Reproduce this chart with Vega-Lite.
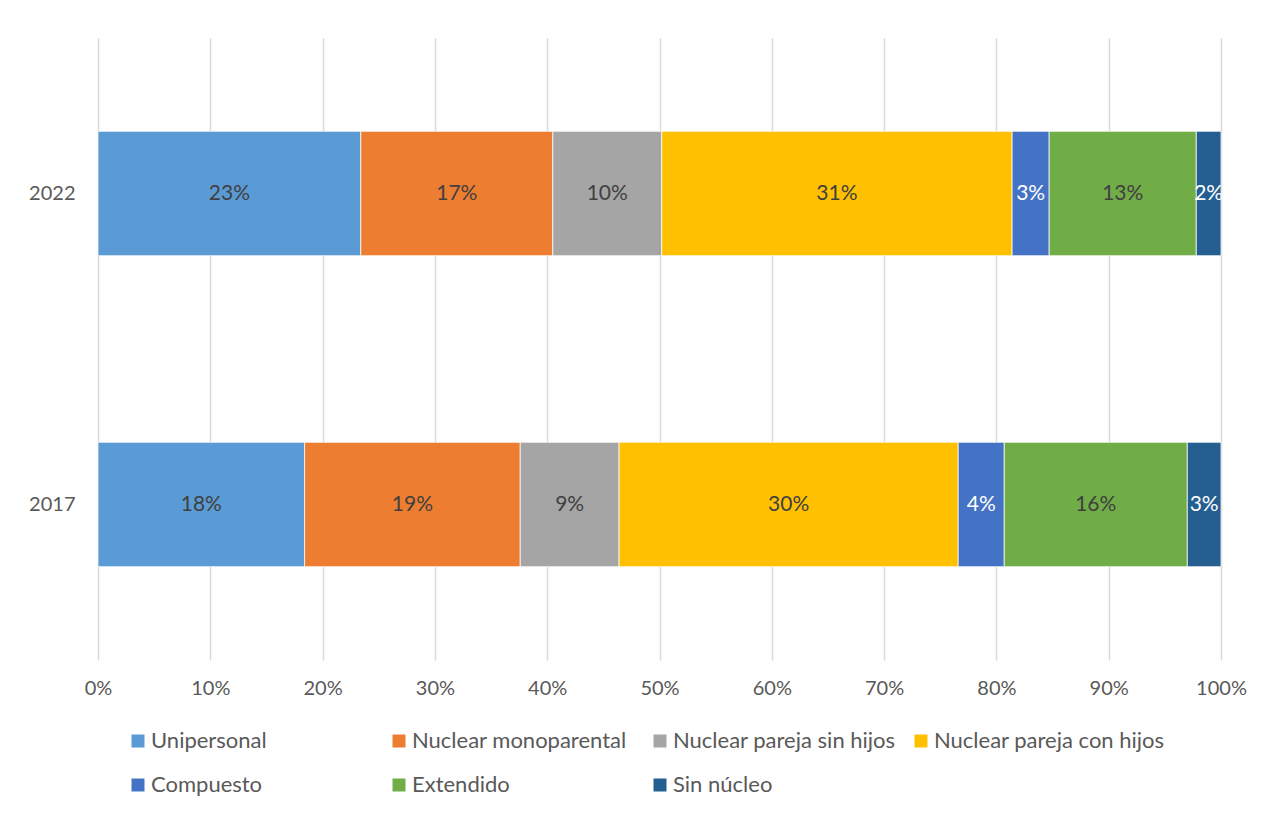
{
  "$schema": "https://vega.github.io/schema/vega-lite/v6.json",
  "width": 1123,
  "height": 622,
  "autosize": {"type": "none"},
  "padding": {"left": 98, "top": 38, "right": 45, "bottom": 153},
  "background": "white",
  "config": {
    "font": "Lato",
    "view": {"stroke": null},
    "axis": {"labelFont": "Lato", "labelFontSize": 20, "labelColor": "#595959"},
    "legend": {"labelFont": "Lato", "labelFontSize": 22, "labelColor": "#595959"}
  },
  "data": {
    "values": [
      {"year": "2022", "category": "Unipersonal", "order": 1, "value": 0.234},
      {"year": "2022", "category": "Nuclear monoparental", "order": 2, "value": 0.171},
      {"year": "2022", "category": "Nuclear pareja sin hijos", "order": 3, "value": 0.097},
      {"year": "2022", "category": "Nuclear pareja con hijos", "order": 4, "value": 0.312},
      {"year": "2022", "category": "Compuesto", "order": 5, "value": 0.033},
      {"year": "2022", "category": "Extendido", "order": 6, "value": 0.131},
      {"year": "2022", "category": "Sin núcleo", "order": 7, "value": 0.022},
      {"year": "2017", "category": "Unipersonal", "order": 1, "value": 0.184},
      {"year": "2017", "category": "Nuclear monoparental", "order": 2, "value": 0.192},
      {"year": "2017", "category": "Nuclear pareja sin hijos", "order": 3, "value": 0.088},
      {"year": "2017", "category": "Nuclear pareja con hijos", "order": 4, "value": 0.302},
      {"year": "2017", "category": "Compuesto", "order": 5, "value": 0.041},
      {"year": "2017", "category": "Extendido", "order": 6, "value": 0.163},
      {"year": "2017", "category": "Sin núcleo", "order": 7, "value": 0.030}
    ]
  },
  "encoding": {
    "y": {
      "field": "year",
      "type": "nominal",
      "sort": ["2022", "2017"],
      "scale": {"paddingInner": 0.6, "paddingOuter": 0.3},
      "axis": {"title": null, "domain": false, "ticks": false, "labelPadding": 23, "grid": false}
    },
    "x": {
      "field": "value",
      "type": "quantitative",
      "stack": "normalize",
      "scale": {"domain": [0, 1], "nice": false},
      "axis": {
        "title": null,
        "format": ".0%",
        "values": [0, 0.1, 0.2, 0.3, 0.4, 0.5, 0.6, 0.7, 0.8, 0.9, 1],
        "domain": false,
        "ticks": false,
        "grid": true,
        "gridColor": "#d9d9d9",
        "gridWidth": 1.5,
        "labelFlush": false,
        "labelPadding": 18
      }
    },
    "order": {"field": "order", "type": "quantitative"}
  },
  "layer": [
    {
      "mark": {"type": "bar", "stroke": "white", "strokeWidth": 0.75},
      "encoding": {
        "color": {
          "field": "category",
          "type": "nominal",
          "scale": {
            "domain": ["Unipersonal", "Nuclear monoparental", "Nuclear pareja sin hijos", "Nuclear pareja con hijos", "Compuesto", "Extendido", "Sin núcleo"],
            "range": ["#5B9BD5", "#ED7D31", "#A5A5A5", "#FFC000", "#4472C4", "#70AD47", "#255E91"]
          },
          "legend": {
            "title": null,
            "orient": "none",
            "legendX": 29,
            "legendY": 692,
            "direction": "horizontal",
            "columns": 4,
            "gridAlign": "all",
            "columnPadding": 6,
            "rowPadding": 22,
            "symbolType": "square",
            "symbolSize": 169,
            "symbolStrokeWidth": 0,
            "labelOffset": 2,
            "labelLimit": 400
          }
        }
      }
    },
    {
      "mark": {"type": "text", "fontSize": 21, "baseline": "middle", "align": "center"},
      "encoding": {
        "x": {"field": "value", "type": "quantitative", "stack": "normalize", "bandPosition": 0.5},
        "text": {"field": "value", "type": "quantitative", "format": ".0%"},
        "color": {
          "condition": {"test": "datum.category === 'Compuesto' || datum.category === 'Sin núcleo'", "value": "white"},
          "value": "#404040"
        }
      }
    }
  ]
}
